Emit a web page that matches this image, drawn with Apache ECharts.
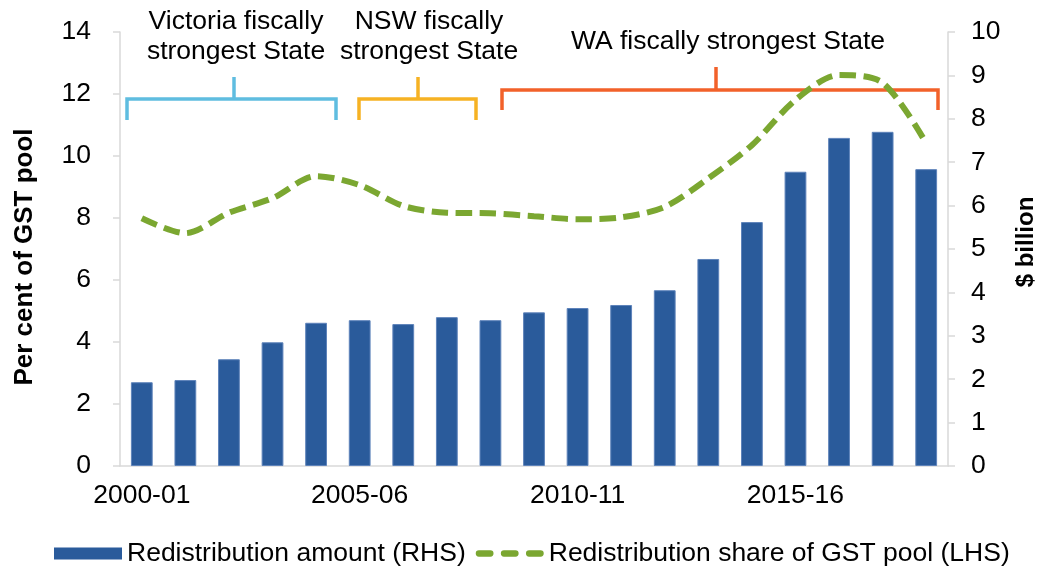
<!DOCTYPE html>
<html>
<head>
<meta charset="utf-8">
<script src="https://cdn.jsdelivr.net/npm/echarts@6/dist/echarts.min.js"></script>
<style>
html,body{margin:0;padding:0;background:#fff;}
#chart{width:1040px;height:567px;}
</style>
</head>
<body>
<div id="chart"></div>
<script>
// ---- data ----
const categories = ['2000-01','2001-02','2002-03','2003-04','2004-05','2005-06','2006-07','2007-08','2008-09','2009-10',
                    '2010-11','2011-12','2012-13','2013-14','2014-15','2015-16','2016-17','2017-18','2018-19'];
// Redistribution amount, $ billion (RHS)
const redistributionAmount = [1.93,1.98,2.46,2.85,3.30,3.36,3.27,3.43,3.36,3.54,
                              3.64,3.71,4.05,4.77,5.62,6.78,7.56,7.70,6.84];
// Redistribution share of GST pool, per cent (LHS)
const redistributionShare = [7.99,7.51,8.17,8.64,9.35,9.06,8.39,8.17,8.15,8.06,
                             7.96,8.02,8.36,9.28,10.35,11.81,12.61,12.36,10.41];
const seriesNames = ['Redistribution amount (RHS)','Redistribution share of GST pool (LHS)'];
const leftAxisTitle = 'Per cent of GST pool';
const rightAxisTitle = '$ billion';
const periodLabels = ['Victoria fiscally\nstrongest State','NSW fiscally\nstrongest State','WA fiscally strongest State'];

// ---- chart ----
const FONT = "'Liberation Sans', Arial, Helvetica, sans-serif";
const FS = 26.5;
const axisGray = '#D9D9D9';
const green = '#7BA731';
const chart = echarts.init(document.getElementById('chart'), null, {renderer:'canvas'});

function bracket(l, r, hy, by, tx, ty, color){
  return [
    {type:'polyline', z:1, shape:{points:[[l,by],[l,hy],[r,hy],[r,by]]},
     style:{stroke:color, lineWidth:3.5, fill:null, lineJoin:'miter'}},
    {type:'line', z:1, shape:{x1:tx,y1:hy,x2:tx,y2:ty},
     style:{stroke:color, lineWidth:3.5}}
  ];
}
function label(text, x, y){
  return {type:'text', z:1, x:x, y:y,
    style:{text:text, font:FS+'px '+FONT, fill:'#000', textAlign:'center', textVerticalAlign:'middle', lineHeight:30}};
}
// legend icon: three rounded dashes
const dashIcon = 'path://M3,0h11a3,3 0 0 1 0,6h-11a3,3 0 0 1 0,-6z' +
                 'M27,0h11a3,3 0 0 1 0,6h-11a3,3 0 0 1 0,-6z' +
                 'M51,0h11a3,3 0 0 1 0,6h-11a3,3 0 0 1 0,-6z';

const option = {
  animation:false,
  backgroundColor:'#fff',
  textStyle:{fontFamily:FONT},
  grid:{left:120, right:92, top:32, bottom:101, containLabel:false, outerBoundsMode:'none'},
  legend:{
    left:54, top:540, padding:0, itemWidth:68, itemHeight:12, itemGap:10,
    textStyle:{fontSize:FS, color:'#000', fontFamily:FONT},
    data:[
      {name:seriesNames[0], icon:'rect', itemStyle:{color:'#2A5B9B', borderWidth:0}},
      {name:seriesNames[1], icon:dashIcon, itemStyle:{color:green, borderWidth:0}}
    ]
  },
  xAxis:{
    type:'category', data:categories, boundaryGap:true,
    axisLine:{show:true, lineStyle:{color:axisGray, width:1.5}},
    axisTick:{show:false},
    axisLabel:{interval:4, fontSize:FS, color:'#000', margin:16, fontFamily:FONT},
    splitLine:{show:false}
  },
  yAxis:[
    {
      type:'value', min:0, max:14, interval:2, position:'left',
      name:leftAxisTitle, nameLocation:'middle', nameGap:82,
      nameTextStyle:{fontSize:26, fontWeight:'bold', color:'#000', fontFamily:FONT, padding:[0,16,0,0]},
      axisLine:{show:true, lineStyle:{color:axisGray, width:1.5}},
      axisTick:{show:true, inside:false, length:7, lineStyle:{color:axisGray, width:1.5}},
      axisLabel:{fontSize:FS, color:'#000', margin:29, fontFamily:FONT},
      splitLine:{show:false}
    },
    {
      type:'value', min:0, max:10, interval:1, position:'right',
      name:rightAxisTitle, nameLocation:'middle', nameGap:66,
      nameTextStyle:{fontSize:24, fontWeight:'bold', color:'#000', fontFamily:FONT, padding:[0,0,0,14]},
      axisLine:{show:true, lineStyle:{color:axisGray, width:1.5}},
      axisTick:{show:true, inside:false, length:7, lineStyle:{color:axisGray, width:1.5}},
      axisLabel:{fontSize:FS, color:'#000', margin:23, fontFamily:FONT},
      splitLine:{show:false}
    }
  ],
  series:[
    {
      name:seriesNames[0], type:'bar', yAxisIndex:1, data:redistributionAmount,
      barWidth:'50%', z:2,
      itemStyle:{color:'#2A5B9B', borderColor:'#5E83BA', borderWidth:1}
    },
    {
      name:seriesNames[1], type:'line', yAxisIndex:0, data:redistributionShare,
      smooth:0.3, symbol:'none', showSymbol:false, z:3,
      lineStyle:{color:green, width:6, type:[16.5,7.5], cap:'butt'},
      itemStyle:{color:green}
    }
  ],
  graphic:[].concat(
    bracket(127,336,99,120,234,77,'#5FBDE0'),
    bracket(359,476,99,120,418,77,'#F6B223'),
    bracket(502,938,90,110,716,67,'#F2612A'),
    [label(periodLabels[0],236,37), label(periodLabels[1],429,37), label(periodLabels[2],728,42)]
  )
};
chart.setOption(option);
</script>
</body>
</html>
